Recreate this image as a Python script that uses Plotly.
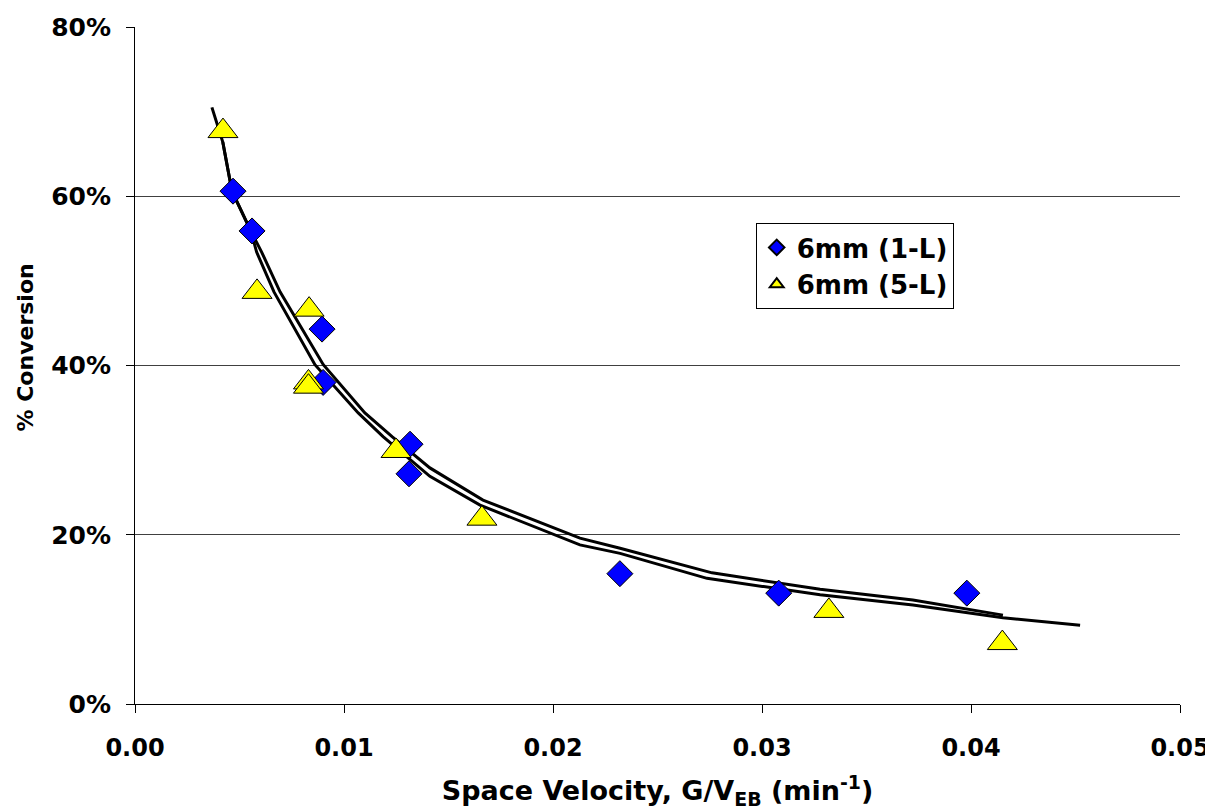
import plotly.graph_objects as go

# Measured data: 6mm (1-L) – blue diamonds
sv_1L = [0.00469, 0.00560, 0.00895, 0.00900, 0.01316, 0.01311, 0.02320, 0.03080, 0.03980]
conv_1L = [60.6, 55.9, 44.3, 38.0, 30.7, 27.2, 15.4, 13.1, 13.1]

# Measured data: 6mm (5-L) – yellow triangles
sv_5L = [0.00421, 0.00584, 0.00833, 0.00830, 0.00830, 0.01249, 0.01660, 0.03320, 0.04150]
conv_5L = [67.7, 48.7, 46.6, 38.0, 37.5, 29.9, 21.9, 11.0, 7.2]

# Fitted curve A (ends near 0.0415)
fit_a_x = [0.00368, 0.00420, 0.00464, 0.00554, 0.00606, 0.00694, 0.00901, 0.01100,
           0.01230, 0.01411, 0.01665, 0.02129, 0.02321, 0.02761, 0.03278, 0.03722, 0.04153]
fit_a_y = [70.5, 66.4, 60.6, 55.9, 53.4, 48.7, 40.1, 34.4,
           31.6, 27.9, 24.1, 19.6, 18.4, 15.5, 13.55, 12.3, 10.5]

# Fitted curve B (ends near 0.045)
fit_b_x = [0.00420, 0.00464, 0.00554, 0.00582, 0.00665, 0.00861, 0.01068, 0.01187,
           0.01411, 0.01651, 0.02129, 0.02321, 0.02737, 0.03278, 0.03722, 0.04153, 0.04522]
fit_b_y = [66.4, 60.6, 55.9, 53.4, 48.7, 40.1, 34.4, 31.6,
           26.9, 23.5, 18.8, 17.8, 14.85, 12.9, 11.7, 10.2, 9.3]

x_ticks = [0.0, 0.01, 0.02, 0.03, 0.04, 0.05]
x_tick_labels = ["0.00", "0.01", "0.02", "0.03", "0.04", "0.05"]
y_ticks = [0, 20, 40, 60, 80]
y_tick_labels = ["0%", "20%", "40%", "60%", "80%"]

FONT = "DejaVu Sans, Arial, sans-serif"

fig = go.Figure()

fig.add_trace(go.Scatter(x=fit_a_x, y=fit_a_y, mode="lines",
                         line=dict(color="black", width=3), showlegend=False,
                         hoverinfo="skip"))
fig.add_trace(go.Scatter(x=fit_b_x, y=fit_b_y, mode="lines",
                         line=dict(color="black", width=3), showlegend=False,
                         hoverinfo="skip"))

fig.add_trace(go.Scatter(x=sv_1L, y=conv_1L, mode="markers", name="6mm (1-L)",
                         marker=dict(symbol="diamond", size=20, color="#0000FF",
                                     line=dict(color="black", width=1))))
fig.add_trace(go.Scatter(x=sv_5L, y=conv_5L, mode="markers", name="6mm (5-L)",
                         marker=dict(symbol="triangle-up", size=26, color="#FFFF00",
                                     line=dict(color="black", width=1))))

fig.update_layout(
    width=1205, height=802,
    margin=dict(l=127, r=33, t=19, b=106),
    paper_bgcolor="white", plot_bgcolor="white",
    font=dict(family=FONT, color="black"),
    legend=dict(
        x=0.594, y=0.7105, xanchor="left", yanchor="top",
        bgcolor="white", bordercolor="black", borderwidth=1,
        font=dict(family=FONT, size=26, weight="bold", color="black"),
        itemsizing="constant", tracegroupgap=0,
    ),
    xaxis=dict(
        range=[0, 0.05], tickvals=x_ticks, ticktext=x_tick_labels,
        ticks="outside", ticklen=8, tickcolor="black",
        showline=True, linecolor="black", linewidth=1,
        showgrid=False, zeroline=False, automargin=False,
        ticklabelstandoff=14,
        tickfont=dict(family=FONT, size=24, weight="bold"),
        title=dict(text="Space Velocity, G/V<sub>EB</sub> (min<sup>-1</sup>)",
                   font=dict(family=FONT, size=27, weight="bold"), standoff=38),
    ),
    yaxis=dict(
        range=[0, 80], tickvals=y_ticks, ticktext=y_tick_labels,
        ticks="outside", ticklen=8, tickcolor="black",
        showline=True, linecolor="black", linewidth=1,
        showgrid=True, gridcolor="#404040", gridwidth=1, zeroline=False,
        automargin=False, ticklabelstandoff=10,
        tickfont=dict(family=FONT, size=25, weight="bold"),
    ),
    annotations=[dict(
        text="% Conversion", textangle=-90,
        xref="paper", yref="paper", x=-0.105, y=0.527,
        xanchor="center", yanchor="middle", showarrow=False,
        font=dict(family=FONT, size=22, weight="bold", color="black"),
    )],
)

fig.write_html("out.html")
